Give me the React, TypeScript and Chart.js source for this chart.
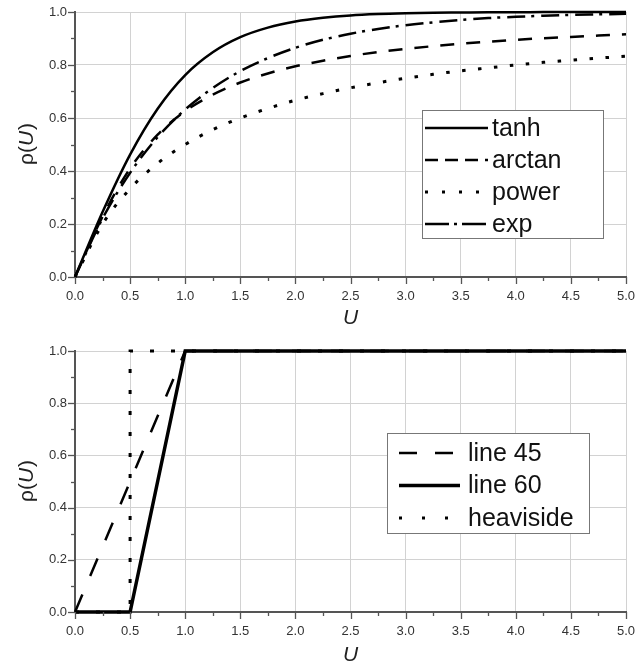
import React, { useEffect, useRef } from "react";
import { Chart, registerables } from "chart.js";

Chart.register(...registerables);

// ---------- top panel data ----------
const U_TOP = [0, 0.25, 0.5, 0.75, 1, 1.25, 1.5, 1.75, 2, 2.25, 2.5, 2.75, 3, 3.25, 3.5, 3.75, 4, 4.25, 4.5, 4.75, 5];
const TANH = [0, 0.245, 0.462, 0.635, 0.762, 0.848, 0.905, 0.941, 0.964, 0.978, 0.987, 0.992, 0.995, 0.997, 0.998, 0.999, 0.999, 1.0, 1.0, 1.0, 1.0];
const ARCTAN = [0, 0.228, 0.41, 0.537, 0.626, 0.688, 0.734, 0.768, 0.795, 0.816, 0.834, 0.849, 0.861, 0.871, 0.88, 0.888, 0.895, 0.901, 0.906, 0.911, 0.916];
const POWER = [0, 0.2, 0.333, 0.429, 0.5, 0.556, 0.6, 0.636, 0.667, 0.692, 0.714, 0.733, 0.75, 0.765, 0.778, 0.789, 0.8, 0.81, 0.818, 0.826, 0.833];
const EXP = [0, 0.221, 0.393, 0.528, 0.632, 0.713, 0.777, 0.826, 0.865, 0.895, 0.918, 0.936, 0.95, 0.961, 0.97, 0.977, 0.982, 0.986, 0.989, 0.991, 0.993];
const TOP_LABELS = ["tanh", "arctan", "power", "exp"];

// ---------- bottom panel data ----------
const U_LINE45 = [0, 1, 5];
const LINE45 = [0, 1, 1];
const U_LINE60 = [0, 0.5, 1, 5];
const LINE60 = [0, 0, 1, 1];
const U_HEAVISIDE = [0, 0.5, 0.5, 5];
const HEAVISIDE = [0, 0, 1, 1];
const BOTTOM_LABELS = ["line 45", "line 60", "heaviside"];

// ---------- axes ----------
const X_MIN = 0, X_MAX = 5, X_STEP = 0.5;
const Y_MIN = 0, Y_MAX = 1, Y_STEP = 0.2;

const pts = (xs: number[], ys: number[]) => xs.map((x, i) => ({ x, y: ys[i] }));

const FONT = "'Liberation Sans', Arial, sans-serif";

const decorPlugin = {
  id: "decor",
  afterDraw(chart: any, _args: any, opts: any) {
    const ctx = chart.ctx as CanvasRenderingContext2D;
    const { left, right, top, bottom } = chart.chartArea;
    const xs = chart.scales.x;
    const ys = chart.scales.y;
    ctx.save();
    // tick marks (major + minor), outward
    ctx.strokeStyle = "#555";
    ctx.lineWidth = 1.3;
    const nx = Math.round((X_MAX - X_MIN) / (X_STEP / 2));
    for (let i = 0; i <= nx; i++) {
      const v = X_MIN + (i * X_STEP) / 2;
      const px = Math.round(xs.getPixelForValue(v)) + 0.5;
      const len = i % 2 === 0 ? 7 : 4;
      ctx.beginPath();
      ctx.moveTo(px, bottom);
      ctx.lineTo(px, bottom + len);
      ctx.stroke();
    }
    const ny = Math.round((Y_MAX - Y_MIN) / (Y_STEP / 2));
    for (let i = 0; i <= ny; i++) {
      const v = Y_MIN + (i * Y_STEP) / 2;
      const py = Math.round(ys.getPixelForValue(v)) + 0.5;
      const len = i % 2 === 0 ? 7 : 4;
      ctx.beginPath();
      ctx.moveTo(left, py);
      ctx.lineTo(left - len, py);
      ctx.stroke();
    }
    // x title
    ctx.fillStyle = "#222";
    ctx.font = `italic 21px ${FONT}`;
    ctx.textAlign = "center";
    ctx.textBaseline = "middle";
    ctx.fillText("U", (left + right) / 2, bottom + opts.xTitleOffset);
    // y title: ρ(U) with italic U
    ctx.save();
    ctx.translate(opts.yTitleX, (top + bottom) / 2);
    ctx.rotate(-Math.PI / 2);
    const normal = `21px ${FONT}`;
    const italic = `italic 21px ${FONT}`;
    ctx.font = normal;
    const w1 = ctx.measureText("ρ(").width;
    const w3 = ctx.measureText(")").width;
    ctx.font = italic;
    const w2 = ctx.measureText("U").width;
    let x0 = -(w1 + w2 + w3) / 2;
    ctx.textAlign = "left";
    ctx.font = normal;
    ctx.fillText("ρ(", x0, 0);
    x0 += w1;
    ctx.font = italic;
    ctx.fillText("U", x0, 0);
    x0 += w2 + 1;
    ctx.font = normal;
    ctx.fillText(")", x0, 0);
    ctx.restore();
    // legend
    const lg = opts.legend;
    ctx.fillStyle = "#fff";
    ctx.fillRect(lg.x, lg.y, lg.w, lg.h);
    ctx.strokeStyle = "#777";
    ctx.lineWidth = 1;
    ctx.strokeRect(lg.x + 0.5, lg.y + 0.5, lg.w, lg.h);
    chart.data.datasets.forEach((ds: any, i: number) => {
      const cy = lg.y + lg.firstRow + i * lg.rowH;
      ctx.strokeStyle = "#000";
      ctx.lineWidth = ds.borderWidth;
      ctx.setLineDash(lg.dashes ? lg.dashes[i] : ds.borderDash || []);
      ctx.beginPath();
      ctx.moveTo(lg.x + lg.lineX0, cy);
      ctx.lineTo(lg.x + lg.lineX1, cy);
      ctx.stroke();
      ctx.setLineDash([]);
      ctx.fillStyle = "#111";
      ctx.font = `${lg.fontSize}px ${FONT}`;
      ctx.textAlign = "left";
      ctx.textBaseline = "middle";
      ctx.fillText(ds.label, lg.x + lg.textX, cy + 1);
    });
    ctx.restore();
  },
};

function makeOptions(xAxisHeight: number, padTop: number, decor: any) {
  return {
    animation: false,
    responsive: false,
    maintainAspectRatio: false,
    layout: { padding: { left: 0, right: 14, top: padTop, bottom: 0 } },
    elements: { point: { radius: 0 }, line: { tension: 0 } },
    plugins: {
      legend: { display: false },
      tooltip: { enabled: false },
      decor,
    },
    scales: {
      x: {
        type: "linear",
        min: X_MIN,
        max: X_MAX,
        afterFit: (s: any) => {
          s.height = xAxisHeight;
          s.paddingLeft = 0;
          s.paddingRight = 0;
        },
        ticks: {
          stepSize: X_STEP,
          padding: 12,
          color: "#333",
          font: { family: FONT, size: 13 },
          callback: (v: any) => Number(v).toFixed(1),
          maxRotation: 0,
        },
        grid: { color: "#d2d2d2", lineWidth: 1, drawTicks: false },
        border: { display: true, color: "#555", width: 2 },
      },
      y: {
        type: "linear",
        min: Y_MIN,
        max: Y_MAX,
        afterFit: (s: any) => {
          s.width = 75;
          s.paddingTop = 0;
          s.paddingBottom = 0;
        },
        ticks: {
          stepSize: Y_STEP,
          padding: 8,
          color: "#333",
          font: { family: FONT, size: 13 },
          callback: (v: any) => Number(v).toFixed(1),
        },
        grid: { color: "#d2d2d2", lineWidth: 1, drawTicks: false },
        border: { display: true, color: "#555", width: 2 },
      },
    },
  };
}

function TopChart() {
  const ref = useRef<HTMLCanvasElement>(null);
  useEffect(() => {
    const base = { borderColor: "#000", borderWidth: 2.5, fill: false, cubicInterpolationMode: "monotone", clip: 4 };
    const chart = new Chart(ref.current as HTMLCanvasElement, {
      type: "line",
      data: {
        datasets: [
          { ...base, label: TOP_LABELS[0], data: pts(U_TOP, TANH), borderDash: [] },
          { ...base, label: TOP_LABELS[1], data: pts(U_TOP, ARCTAN), borderDash: [14, 12] },
          { ...base, label: TOP_LABELS[2], data: pts(U_TOP, POWER), borderDash: [3.5, 12.5], borderWidth: 3 },
          { ...base, label: TOP_LABELS[3], data: pts(U_TOP, EXP), borderDash: [18, 6, 3, 7] },
        ],
      } as any,
      options: makeOptions(53, 12, {
        xTitleOffset: 41,
        yTitleX: 27,
        legend: {
          x: 422, y: 110, w: 181, h: 128,
          firstRow: 18, rowH: 32,
          lineX0: 3, lineX1: 66, textX: 70, fontSize: 25,
          dashes: [[], [13, 7], [3, 14], [24, 5, 3, 5]],
        },
      }) as any,
      plugins: [decorPlugin],
    });
    return () => chart.destroy();
  }, []);
  return <canvas ref={ref} width={640} height={330} style={{ display: "block", width: 640, height: 330 }} />;
}

function BottomChart() {
  const ref = useRef<HTMLCanvasElement>(null);
  useEffect(() => {
    const base = { borderColor: "#000", borderWidth: 2.5, fill: false, clip: 4 };
    const chart = new Chart(ref.current as HTMLCanvasElement, {
      type: "line",
      data: {
        datasets: [
          { ...base, label: BOTTOM_LABELS[0], data: pts(U_LINE45, LINE45), borderDash: [19, 20] },
          { ...base, label: BOTTOM_LABELS[1], data: pts(U_LINE60, LINE60), borderDash: [], borderWidth: 3.5 },
          { ...base, label: BOTTOM_LABELS[2], data: pts(U_HEAVISIDE, HEAVISIDE), borderDash: [4, 17], borderWidth: 3 },
        ],
      } as any,
      options: makeOptions(57, 21, {
        xTitleOffset: 43,
        yTitleX: 27,
        legend: {
          x: 387, y: 103, w: 202, h: 100,
          firstRow: 20, rowH: 32.5,
          lineX0: 12, lineX1: 73, textX: 81, fontSize: 25,
          dashes: [[18, 18], [], [3, 20]],
        },
      }) as any,
      plugins: [decorPlugin],
    });
    return () => chart.destroy();
  }, []);
  return <canvas ref={ref} width={640} height={339} style={{ display: "block", width: 640, height: 339 }} />;
}

export default function App() {
  return (
    <div style={{ position: "absolute", left: 0, top: 0, width: 640, height: 669, background: "#fff" }}>
      <TopChart />
      <BottomChart />
    </div>
  );
}
